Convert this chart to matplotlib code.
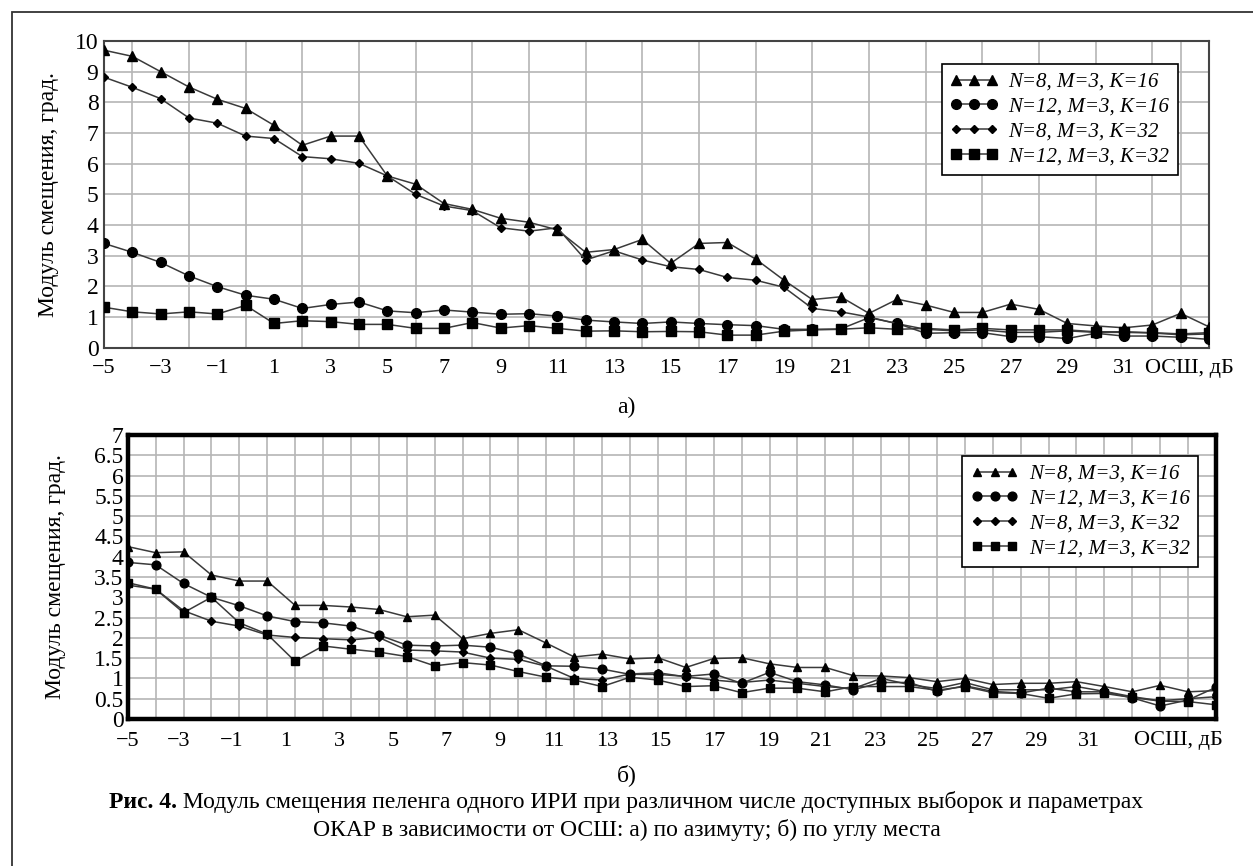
import numpy as np
import matplotlib
matplotlib.use("Agg")
import matplotlib.pyplot as plt
from matplotlib.patches import Rectangle
from matplotlib.ticker import MultipleLocator

plt.rcParams['font.family'] = ['Liberation Serif', 'DejaVu Serif']
plt.rcParams['axes.unicode_minus'] = True

# ОСШ, дБ
snr = np.arange(-5, 35)

# а) по азимуту
az_n8_k16 = [9.7, 9.5, 9.0, 8.5, 8.1, 7.8, 7.25, 6.6, 6.9, 6.9, 5.6, 5.33, 4.7, 4.51, 4.22, 4.09,
             3.84, 3.11, 3.2, 3.53, 2.75, 3.4, 3.43, 2.89, 2.2, 1.57, 1.66, 1.12, 1.58, 1.39, 1.15,
             1.15, 1.42, 1.25, 0.79, 0.71, 0.65, 0.74, 1.12, 0.68]
az_n12_k16 = [3.4, 3.11, 2.78, 2.34, 1.99, 1.71, 1.58, 1.28, 1.41, 1.49, 1.2, 1.14, 1.23, 1.16, 1.09,
              1.11, 1.03, 0.9, 0.84, 0.79, 0.84, 0.79, 0.75, 0.72, 0.6, 0.6, 0.61, 0.98, 0.79, 0.47,
              0.49, 0.49, 0.36, 0.36, 0.3, 0.47, 0.38, 0.38, 0.34, 0.27]
az_n8_k32 = [8.82, 8.49, 8.12, 7.49, 7.32, 6.9, 6.82, 6.23, 6.16, 6.01, 5.6, 5.0, 4.62, 4.47, 3.91,
             3.8, 3.91, 2.86, 3.16, 2.86, 2.64, 2.55, 2.29, 2.2, 1.97, 1.28, 1.17, 1.0, 0.78, 0.6,
             0.55, 0.58, 0.5, 0.5, 0.55, 0.5, 0.5, 0.48, 0.42, 0.45]
az_n12_k32 = [1.32, 1.17, 1.1, 1.17, 1.1, 1.38, 0.79, 0.88, 0.85, 0.76, 0.76, 0.63, 0.63, 0.82, 0.64,
              0.72, 0.63, 0.54, 0.55, 0.52, 0.53, 0.52, 0.41, 0.41, 0.54, 0.58, 0.6, 0.65, 0.6, 0.63,
              0.58, 0.63, 0.58, 0.58, 0.58, 0.52, 0.52, 0.49, 0.45, 0.49]

# б) по углу места
el_n8_k16 = [4.25, 4.1, 4.12, 3.55, 3.4, 3.4, 2.8, 2.8, 2.76, 2.7, 2.52, 2.56, 1.98, 2.11, 2.2, 1.87,
             1.53, 1.6, 1.48, 1.51, 1.27, 1.49, 1.51, 1.36, 1.27, 1.27, 1.07, 1.06, 1.02, 0.92, 1.0,
             0.85, 0.88, 0.88, 0.92, 0.8, 0.67, 0.83, 0.67, 0.7]
el_n12_k16 = [3.86, 3.8, 3.34, 3.0, 2.79, 2.54, 2.4, 2.37, 2.29, 2.07, 1.82, 1.8, 1.82, 1.77, 1.6,
              1.31, 1.3, 1.23, 1.1, 1.1, 1.05, 1.11, 0.88, 1.15, 0.92, 0.84, 0.72, 0.9, 0.9, 0.68,
              0.82, 0.68, 0.64, 0.76, 0.67, 0.67, 0.52, 0.32, 0.47, 0.78]
el_n8_k32 = [3.3, 3.2, 2.67, 2.41, 2.29, 2.07, 2.01, 1.98, 1.95, 2.01, 1.7, 1.68, 1.65, 1.5, 1.47,
             1.3, 1.0, 0.96, 1.11, 1.14, 1.04, 0.96, 0.9, 0.96, 0.88, 0.8, 0.75, 1.0, 0.85, 0.75,
             0.9, 0.72, 0.72, 0.72, 0.8, 0.68, 0.55, 0.45, 0.5, 0.55]
el_n12_k32 = [3.36, 3.2, 2.62, 3.0, 2.37, 2.09, 1.42, 1.8, 1.72, 1.65, 1.54, 1.31, 1.39, 1.33, 1.17,
              1.03, 0.96, 0.8, 1.03, 0.96, 0.8, 0.82, 0.65, 0.76, 0.76, 0.67, 0.8, 0.8, 0.8, 0.71,
              0.8, 0.65, 0.63, 0.51, 0.62, 0.63, 0.53, 0.44, 0.43, 0.35]

labels = ["N=8, M=3, K=16", "N=12, M=3, K=16", "N=8, M=3, K=32", "N=12, M=3, K=32"]
markers = ["^", "o", "D", "s"]
msizes = [6.5, 7, 4.2, 6.5]

x_tick_values = list(range(-5, 32, 2))
x_ticklabels = [str(v).replace("-", "\u2212") for v in x_tick_values] + ["ОСШ, дБ"]

FS = 17
W, H = 1253, 866
fig = plt.figure(figsize=(W / 100, H / 100), dpi=100)

# рамка рисунка
fig.add_artist(Rectangle((12 / W, -0.05), 1.2, 1 - 12 / H + 0.05, transform=fig.transFigure,
                         fill=False, edgecolor="#333333", linewidth=1.3, clip_on=False))


def draw(ax, series, ms_scale, tick_pos):
    for y, lab, m, ms in zip(series, labels, markers, msizes):
        ax.plot(snr, y, color="#3a3a3a", linewidth=1.1, marker=m, markersize=ms * ms_scale,
                markerfacecolor="black", markeredgecolor="black", label=lab, zorder=3)
    ax.set_xticks(tick_pos)
    ax.set_xticklabels(x_ticklabels)
    ax.set_xlim(-5, 34)
    ax.xaxis.set_minor_locator(MultipleLocator(1))
    ax.xaxis.grid(False, which="major")
    ax.xaxis.grid(True, which="minor", color="#b5b5b5", linewidth=1.2, zorder=0)
    ax.yaxis.grid(True, which="major", color="#b5b5b5", linewidth=1.2, zorder=0)
    ax.set_axisbelow(True)
    ax.tick_params(which="both", length=0)
    ax.tick_params(axis="x", labelsize=16)
    ax.tick_params(axis="y", labelsize=FS)
    ax.set_ylabel("Модуль смещения, град.", fontsize=FS)


def add_legend(ax, anchor):
    leg = ax.legend(loc="upper left", bbox_to_anchor=anchor, borderaxespad=0, numpoints=3,
                    handlelength=2.3, fancybox=False, edgecolor="black", framealpha=1,
                    borderpad=0.4, labelspacing=0.25, handletextpad=0.5,
                    prop={"style": "italic", "size": 15})
    leg.get_frame().set_linewidth(1.2)


# а) по азимуту
ax1 = fig.add_axes([104 / W, 1 - 347.7 / H, (1209 - 104) / W, (347.7 - 41) / H])
draw(ax1, [az_n8_k16, az_n12_k16, az_n8_k32, az_n12_k32], 1.0,
     list(x_tick_values) + [33.3])
ax1.set_ylim(0, 10)
ax1.set_yticks(range(0, 11))
ax1.tick_params(axis="x", pad=8)
ax1.tick_params(axis="y", pad=4)
ax1.yaxis.set_label_coords(-0.041, 0.5)
for s in ax1.spines.values():
    s.set_color("#444444")
    s.set_linewidth(1.5)
add_legend(ax1, (0.758, 0.925))

# б) по углу места (подписи оси X в оригинале идут с шагом чуть меньше сетки)
ax2 = fig.add_axes([127.7 / W, 1 - 719 / H, (1216 - 127.7) / W, (719 - 435) / H])
draw(ax2, [el_n8_k16, el_n12_k16, el_n8_k32, el_n12_k32], 0.9,
     [max(-5.0, -5.1 + (v + 5) * 0.96) for v in x_tick_values] + [32.65])
ax2.set_ylim(0, 7)
y2 = np.arange(0, 7.01, 0.5)
ax2.set_yticks(y2)
ax2.set_yticklabels([f"{v:g}" for v in y2])
ax2.tick_params(axis="x", pad=9)
ax2.tick_params(axis="y", pad=3)
ax2.yaxis.set_label_coords(-0.057, 0.5)
for s in ax2.spines.values():
    s.set_color("black")
    s.set_linewidth(3.2)
add_legend(ax2, (0.767, 0.926))

# подписи
fig.text(0.5, 1 - 407 / H, "а)", ha="center", va="center", fontsize=FS)
fig.text(0.5, 1 - 775 / H, "б)", ha="center", va="center", fontsize=FS)

cap_y1 = 1 - 802 / H
t1 = fig.text(0, cap_y1, "Рис. 4.", ha="left", va="center", fontsize=FS, fontweight="bold")
t2 = fig.text(0, cap_y1, " Модуль смещения пеленга одного ИРИ при различном числе доступных выборок и параметрах",
              ha="left", va="center", fontsize=FS)
fig.canvas.draw()
r = fig.canvas.get_renderer()
w1 = t1.get_window_extent(r).width
w2 = t2.get_window_extent(r).width
x0 = (W - w1 - w2) / 2
t1.set_x(x0 / W)
t2.set_x((x0 + w1) / W)
fig.text(0.5, 1 - 830 / H, "ОКАР в зависимости от ОСШ: а) по азимуту; б) по углу места",
         ha="center", va="center", fontsize=FS)

fig.savefig("out.png", dpi=100)
